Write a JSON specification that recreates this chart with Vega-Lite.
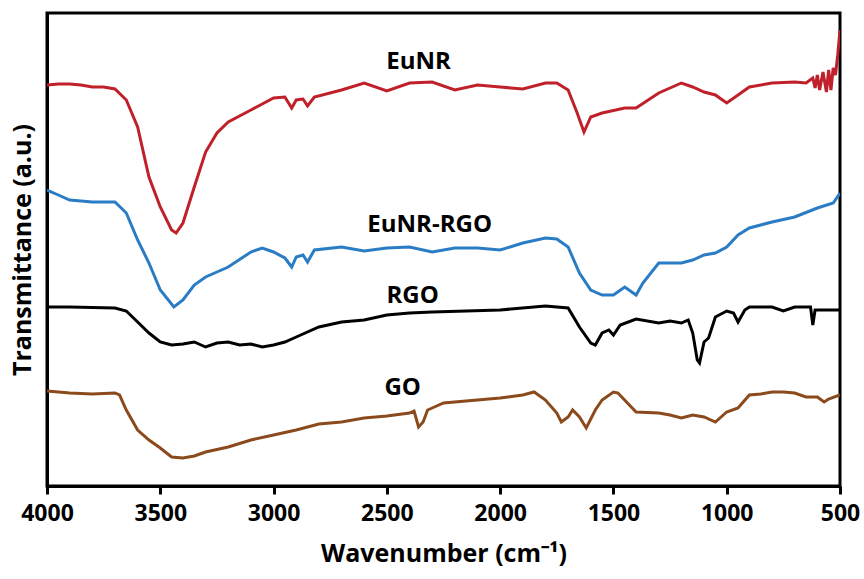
{
  "$schema": "https://vega.github.io/schema/vega-lite/v6.json",
  "width": 793,
  "height": 473,
  "autosize": "none",
  "padding": {"left": 47, "top": 13, "right": 24, "bottom": 93},
  "background": "white",
  "config": {
    "view": {"stroke": "black", "strokeWidth": 3},
    "font": "Open Sans"
  },
  "datasets": {
    "spectra": [
      {"s":"EuNR","w":4000,"t":401},{"s":"EuNR","w":3950,"t":402},{"s":"EuNR","w":3900,"t":402},{"s":"EuNR","w":3850,"t":401},{"s":"EuNR","w":3800,"t":399},{"s":"EuNR","w":3750,"t":399},{"s":"EuNR","w":3700,"t":397},{"s":"EuNR","w":3650,"t":386},{"s":"EuNR","w":3600,"t":359},{"s":"EuNR","w":3550,"t":309},{"s":"EuNR","w":3500,"t":279},{"s":"EuNR","w":3450,"t":256},{"s":"EuNR","w":3430,"t":253},{"s":"EuNR","w":3400,"t":263},{"s":"EuNR","w":3350,"t":299},{"s":"EuNR","w":3300,"t":334},{"s":"EuNR","w":3250,"t":353},{"s":"EuNR","w":3200,"t":364},{"s":"EuNR","w":3100,"t":376},{"s":"EuNR","w":3000,"t":388},{"s":"EuNR","w":2950,"t":389},{"s":"EuNR","w":2920,"t":378},{"s":"EuNR","w":2900,"t":386},{"s":"EuNR","w":2870,"t":387},{"s":"EuNR","w":2850,"t":380},{"s":"EuNR","w":2820,"t":389},{"s":"EuNR","w":2700,"t":396},{"s":"EuNR","w":2600,"t":403},{"s":"EuNR","w":2500,"t":395},{"s":"EuNR","w":2400,"t":403},{"s":"EuNR","w":2300,"t":404},{"s":"EuNR","w":2200,"t":396},{"s":"EuNR","w":2100,"t":401},{"s":"EuNR","w":2000,"t":399},{"s":"EuNR","w":1900,"t":397},{"s":"EuNR","w":1800,"t":403},{"s":"EuNR","w":1750,"t":403},{"s":"EuNR","w":1700,"t":396},{"s":"EuNR","w":1660,"t":373},{"s":"EuNR","w":1630,"t":354},{"s":"EuNR","w":1600,"t":369},{"s":"EuNR","w":1550,"t":373},{"s":"EuNR","w":1450,"t":378},{"s":"EuNR","w":1400,"t":378},{"s":"EuNR","w":1300,"t":393},{"s":"EuNR","w":1200,"t":403},{"s":"EuNR","w":1150,"t":399},{"s":"EuNR","w":1100,"t":394},{"s":"EuNR","w":1050,"t":391},{"s":"EuNR","w":1000,"t":383},{"s":"EuNR","w":950,"t":391},{"s":"EuNR","w":900,"t":399},{"s":"EuNR","w":800,"t":403},{"s":"EuNR","w":700,"t":404},{"s":"EuNR","w":650,"t":403},{"s":"EuNR","w":620,"t":408},{"s":"EuNR","w":610,"t":398},{"s":"EuNR","w":600,"t":411},{"s":"EuNR","w":590,"t":396},{"s":"EuNR","w":575,"t":414},{"s":"EuNR","w":560,"t":394},{"s":"EuNR","w":550,"t":416},{"s":"EuNR","w":540,"t":396},{"s":"EuNR","w":530,"t":418},{"s":"EuNR","w":520,"t":411},{"s":"EuNR","w":510,"t":431},{"s":"EuNR","w":500,"t":456},

      {"s":"EuNR-RGO","w":4000,"t":296},{"s":"EuNR-RGO","w":3950,"t":291},{"s":"EuNR-RGO","w":3900,"t":286},{"s":"EuNR-RGO","w":3850,"t":285},{"s":"EuNR-RGO","w":3800,"t":284},{"s":"EuNR-RGO","w":3700,"t":284},{"s":"EuNR-RGO","w":3650,"t":273},{"s":"EuNR-RGO","w":3600,"t":246},{"s":"EuNR-RGO","w":3550,"t":223},{"s":"EuNR-RGO","w":3500,"t":196},{"s":"EuNR-RGO","w":3440,"t":179},{"s":"EuNR-RGO","w":3400,"t":186},{"s":"EuNR-RGO","w":3350,"t":201},{"s":"EuNR-RGO","w":3300,"t":209},{"s":"EuNR-RGO","w":3200,"t":219},{"s":"EuNR-RGO","w":3100,"t":234},{"s":"EuNR-RGO","w":3050,"t":238},{"s":"EuNR-RGO","w":3000,"t":234},{"s":"EuNR-RGO","w":2950,"t":228},{"s":"EuNR-RGO","w":2920,"t":219},{"s":"EuNR-RGO","w":2900,"t":229},{"s":"EuNR-RGO","w":2870,"t":231},{"s":"EuNR-RGO","w":2850,"t":224},{"s":"EuNR-RGO","w":2820,"t":236},{"s":"EuNR-RGO","w":2700,"t":239},{"s":"EuNR-RGO","w":2600,"t":235},{"s":"EuNR-RGO","w":2500,"t":238},{"s":"EuNR-RGO","w":2400,"t":239},{"s":"EuNR-RGO","w":2300,"t":234},{"s":"EuNR-RGO","w":2200,"t":238},{"s":"EuNR-RGO","w":2100,"t":238},{"s":"EuNR-RGO","w":2000,"t":236},{"s":"EuNR-RGO","w":1900,"t":243},{"s":"EuNR-RGO","w":1800,"t":248},{"s":"EuNR-RGO","w":1750,"t":247},{"s":"EuNR-RGO","w":1700,"t":239},{"s":"EuNR-RGO","w":1650,"t":213},{"s":"EuNR-RGO","w":1600,"t":196},{"s":"EuNR-RGO","w":1550,"t":191},{"s":"EuNR-RGO","w":1500,"t":191},{"s":"EuNR-RGO","w":1450,"t":199},{"s":"EuNR-RGO","w":1400,"t":191},{"s":"EuNR-RGO","w":1370,"t":203},{"s":"EuNR-RGO","w":1300,"t":223},{"s":"EuNR-RGO","w":1200,"t":223},{"s":"EuNR-RGO","w":1150,"t":226},{"s":"EuNR-RGO","w":1100,"t":231},{"s":"EuNR-RGO","w":1050,"t":233},{"s":"EuNR-RGO","w":1000,"t":239},{"s":"EuNR-RGO","w":950,"t":251},{"s":"EuNR-RGO","w":900,"t":258},{"s":"EuNR-RGO","w":800,"t":264},{"s":"EuNR-RGO","w":700,"t":269},{"s":"EuNR-RGO","w":600,"t":278},{"s":"EuNR-RGO","w":530,"t":283},{"s":"EuNR-RGO","w":500,"t":293},

      {"s":"RGO","w":4000,"t":179},{"s":"RGO","w":3900,"t":179},{"s":"RGO","w":3700,"t":178},{"s":"RGO","w":3650,"t":175},{"s":"RGO","w":3600,"t":164},{"s":"RGO","w":3550,"t":153},{"s":"RGO","w":3500,"t":144},{"s":"RGO","w":3450,"t":141},{"s":"RGO","w":3400,"t":142},{"s":"RGO","w":3350,"t":144},{"s":"RGO","w":3300,"t":139},{"s":"RGO","w":3250,"t":143},{"s":"RGO","w":3200,"t":144},{"s":"RGO","w":3150,"t":141},{"s":"RGO","w":3100,"t":142},{"s":"RGO","w":3050,"t":139},{"s":"RGO","w":3000,"t":141},{"s":"RGO","w":2950,"t":144},{"s":"RGO","w":2900,"t":149},{"s":"RGO","w":2800,"t":159},{"s":"RGO","w":2700,"t":164},{"s":"RGO","w":2600,"t":166},{"s":"RGO","w":2500,"t":171},{"s":"RGO","w":2400,"t":173},{"s":"RGO","w":2300,"t":174},{"s":"RGO","w":2000,"t":176},{"s":"RGO","w":1800,"t":180},{"s":"RGO","w":1700,"t":178},{"s":"RGO","w":1650,"t":159},{"s":"RGO","w":1600,"t":143},{"s":"RGO","w":1580,"t":141},{"s":"RGO","w":1550,"t":153},{"s":"RGO","w":1520,"t":156},{"s":"RGO","w":1500,"t":151},{"s":"RGO","w":1470,"t":161},{"s":"RGO","w":1400,"t":167},{"s":"RGO","w":1300,"t":163},{"s":"RGO","w":1250,"t":165},{"s":"RGO","w":1200,"t":163},{"s":"RGO","w":1170,"t":166},{"s":"RGO","w":1150,"t":153},{"s":"RGO","w":1130,"t":126},{"s":"RGO","w":1120,"t":123},{"s":"RGO","w":1100,"t":144},{"s":"RGO","w":1080,"t":148},{"s":"RGO","w":1050,"t":169},{"s":"RGO","w":1000,"t":175},{"s":"RGO","w":970,"t":173},{"s":"RGO","w":950,"t":164},{"s":"RGO","w":920,"t":176},{"s":"RGO","w":900,"t":179},{"s":"RGO","w":800,"t":179},{"s":"RGO","w":750,"t":175},{"s":"RGO","w":700,"t":179},{"s":"RGO","w":630,"t":179},{"s":"RGO","w":620,"t":161},{"s":"RGO","w":610,"t":176},{"s":"RGO","w":500,"t":176},

      {"s":"GO","w":4000,"t":95},{"s":"GO","w":3900,"t":93},{"s":"GO","w":3800,"t":92},{"s":"GO","w":3700,"t":93},{"s":"GO","w":3680,"t":91},{"s":"GO","w":3650,"t":76},{"s":"GO","w":3600,"t":56},{"s":"GO","w":3550,"t":46},{"s":"GO","w":3500,"t":38},{"s":"GO","w":3450,"t":29},{"s":"GO","w":3400,"t":28},{"s":"GO","w":3350,"t":30},{"s":"GO","w":3300,"t":34},{"s":"GO","w":3200,"t":39},{"s":"GO","w":3100,"t":46},{"s":"GO","w":3000,"t":51},{"s":"GO","w":2900,"t":56},{"s":"GO","w":2800,"t":62},{"s":"GO","w":2700,"t":64},{"s":"GO","w":2600,"t":68},{"s":"GO","w":2500,"t":70},{"s":"GO","w":2400,"t":73},{"s":"GO","w":2380,"t":75},{"s":"GO","w":2360,"t":59},{"s":"GO","w":2340,"t":64},{"s":"GO","w":2320,"t":76},{"s":"GO","w":2300,"t":78},{"s":"GO","w":2250,"t":83},{"s":"GO","w":2000,"t":88},{"s":"GO","w":1900,"t":91},{"s":"GO","w":1850,"t":94},{"s":"GO","w":1800,"t":86},{"s":"GO","w":1750,"t":73},{"s":"GO","w":1730,"t":64},{"s":"GO","w":1700,"t":69},{"s":"GO","w":1680,"t":76},{"s":"GO","w":1650,"t":69},{"s":"GO","w":1620,"t":58},{"s":"GO","w":1580,"t":76},{"s":"GO","w":1550,"t":86},{"s":"GO","w":1500,"t":94},{"s":"GO","w":1480,"t":93},{"s":"GO","w":1400,"t":74},{"s":"GO","w":1300,"t":73},{"s":"GO","w":1250,"t":71},{"s":"GO","w":1200,"t":68},{"s":"GO","w":1150,"t":71},{"s":"GO","w":1100,"t":69},{"s":"GO","w":1050,"t":64},{"s":"GO","w":1000,"t":74},{"s":"GO","w":950,"t":78},{"s":"GO","w":900,"t":91},{"s":"GO","w":850,"t":92},{"s":"GO","w":800,"t":94},{"s":"GO","w":750,"t":94},{"s":"GO","w":700,"t":93},{"s":"GO","w":650,"t":89},{"s":"GO","w":600,"t":89},{"s":"GO","w":570,"t":84},{"s":"GO","w":550,"t":87},{"s":"GO","w":500,"t":91}
    ],
    "labels": [
      {"s":"EuNR","w":2360,"t":424},
      {"s":"EuNR-RGO","w":2311,"t":261},
      {"s":"RGO","w":2386,"t":190},
      {"s":"GO","w":2430,"t":98}
    ]
  },
  "layer": [
    {
      "data": {"name": "spectra"},
      "mark": {"type": "line", "strokeWidth": 3, "interpolate": "linear", "clip": true},
      "encoding": {
        "x": {
          "field": "w", "type": "quantitative",
          "scale": {"domain": [500, 4000], "reverse": true, "nice": false, "zero": false},
          "axis": {
            "values": [4000, 3500, 3000, 2500, 2000, 1500, 1000, 500],
            "format": "d",
            "grid": false,
            "domainColor": "black", "domainWidth": 3,
            "tickColor": "black", "tickWidth": 3, "tickSize": 8,
            "labelFont": "Open Sans", "labelFontWeight": "bold", "labelFontSize": 23, "labelColor": "black",
            "labelPadding": 8, "labelFlush": false, "labelOverlap": false,
            "title": "Wavenumber (cm⁻¹)",
            "titleFont": "Open Sans", "titleFontWeight": "bold", "titleFontSize": 25, "titleColor": "black",
            "titlePadding": 16
          }
        },
        "y": {
          "field": "t", "type": "quantitative",
          "scale": {"domain": [0, 473], "nice": false, "zero": false},
          "axis": {
            "ticks": false, "labels": false, "grid": false,
            "domainColor": "black", "domainWidth": 3,
            "title": "Transmittance (a.u.)",
            "titleFont": "Open Sans", "titleFontWeight": "bold", "titleFontSize": 25, "titleColor": "black",
            "titlePadding": 12
          }
        },
        "color": {
          "field": "s", "type": "nominal",
          "scale": {"domain": ["EuNR", "EuNR-RGO", "RGO", "GO"], "range": ["#C0202A", "#2A7CC4", "#000000", "#8B4A1C"]},
          "legend": null
        },
        "detail": {"field": "s"}
      }
    },
    {
      "data": {"name": "labels"},
      "mark": {"type": "text", "font": "Open Sans", "fontWeight": "bold", "fontSize": 24, "color": "black", "align": "center", "baseline": "middle"},
      "encoding": {
        "x": {"field": "w", "type": "quantitative"},
        "y": {"field": "t", "type": "quantitative"},
        "text": {"field": "s"}
      }
    }
  ]
}
